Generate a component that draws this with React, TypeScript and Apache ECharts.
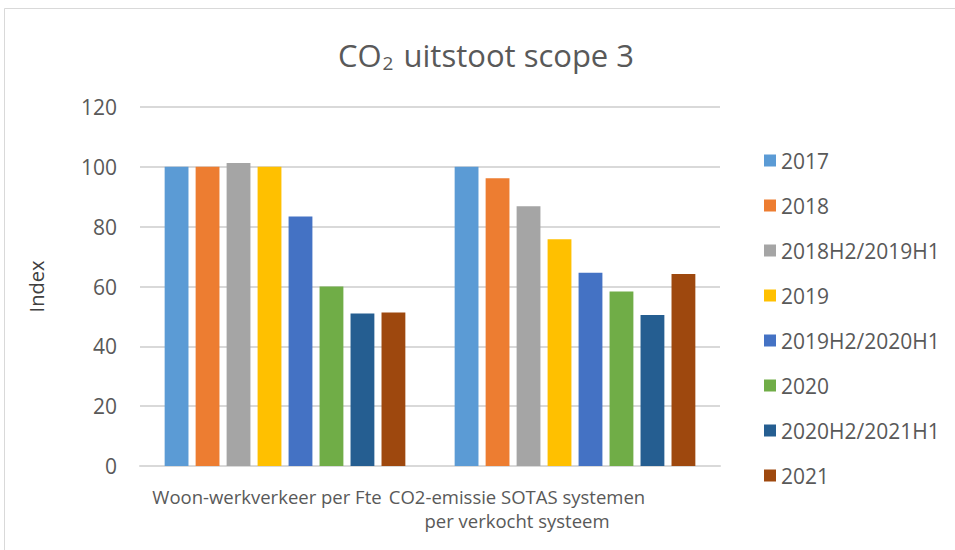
import React, { useEffect, useRef } from "react";
import * as echarts from "echarts";

const categories = ["Woon-werkverkeer per Fte", "CO2-emissie SOTAS systemen\nper verkocht systeem"];
const seriesNames = ["2017", "2018", "2018H2/2019H1", "2019", "2019H2/2020H1", "2020", "2020H2/2021H1", "2021"];
const values2017 = [100, 100];
const values2018 = [100, 96.2];
const values2018H2 = [101.3, 86.8];
const values2019 = [100, 75.8];
const values2019H2 = [83.4, 64.6];
const values2020 = [60, 58.3];
const values2020H2 = [51, 50.5];
const values2021 = [51.3, 64.2];
const allValues = [values2017, values2018, values2018H2, values2019, values2019H2, values2020, values2020H2, values2021];
const colors = ["#5B9BD5", "#ED7D31", "#A5A5A5", "#FFC000", "#4472C4", "#70AD47", "#255E91", "#9E480E"];

const FONT = "'Open Sans', 'Noto Sans', sans-serif";

export default function App() {
  const ref = useRef<HTMLDivElement>(null);
  useEffect(() => {
    if (!ref.current) return;
    const chart = echarts.init(ref.current, null, { renderer: "svg" });
    const labelBase = { fontSize: 18.5, color: "#595959", lineHeight: 24, fontFamily: FONT };
    chart.setOption({
      animation: false,
      backgroundColor: "#ffffff",
      textStyle: { fontFamily: FONT },
      title: {
        text: "{a|CO}{s|2}{a| uitstoot scope 3}",
        left: 481,
        textAlign: "center",
        top: 30,
        textStyle: {
          fontWeight: "normal",
          rich: {
            a: { fontSize: 31, color: "#595959", fontFamily: FONT, fontWeight: "normal", lineHeight: 40 },
            s: { fontSize: 19, color: "#595959", fontFamily: FONT, fontWeight: "normal", lineHeight: 40, padding: [16, 2, 0, 1] },
          },
        },
      },
      graphic: [
        {
          type: "rect",
          shape: { x: 4.5, y: 8.5, width: 1000, height: 600 },
          style: { fill: "none", stroke: "#D9D9D9", lineWidth: 1 },
          silent: true,
        },
      ],
      legend: {
        orient: "vertical",
        left: 759,
        top: 142,
        icon: "rect",
        itemWidth: 12,
        itemHeight: 12,
        itemGap: 18,
        textStyle: { fontSize: 21, color: "#595959", lineHeight: 27, fontFamily: FONT },
        data: seriesNames,
      },
      grid: { left: 140, right: 235, top: 107, bottom: 84 },
      xAxis: {
        type: "category",
        data: categories,
        axisLine: { lineStyle: { color: "#D9D9D9", width: 2 } },
        axisTick: { show: false },
        axisLabel: {
          interval: 0,
          margin: 18,
          ...labelBase,
          formatter: (v: string, i: number) =>
            v
              .split("\n")
              .map((line) => `{${i === 0 ? "a" : "b"}|${line}}`)
              .join("\n"),
          rich: {
            a: { ...labelBase, padding: [0, 36, 0, 0] },
            b: { ...labelBase, padding: [0, 116, 0, 0] },
          },
        },
      },
      yAxis: {
        type: "value",
        min: 0,
        max: 120,
        interval: 20,
        name: "Index",
        nameLocation: "middle",
        nameGap: 94,
        nameTextStyle: { fontSize: 20, color: "#404040", fontFamily: FONT },
        axisLine: { show: false },
        axisTick: { show: false },
        axisLabel: { fontSize: 21, color: "#595959", margin: 23, fontFamily: FONT },
        splitLine: { lineStyle: { color: "#D9D9D9", width: 2 } },
      },
      series: seriesNames.map((name, i) => ({
        name,
        type: "bar",
        data: allValues[i],
        itemStyle: { color: colors[i] },
        barGap: "30%",
        barCategoryGap: "17%",
      })),
    });
    return () => chart.dispose();
  }, []);
  return (
    <div
      ref={ref}
      style={{ position: "absolute", left: 0, top: 0, width: 955, height: 550 }}
    />
  );
}
